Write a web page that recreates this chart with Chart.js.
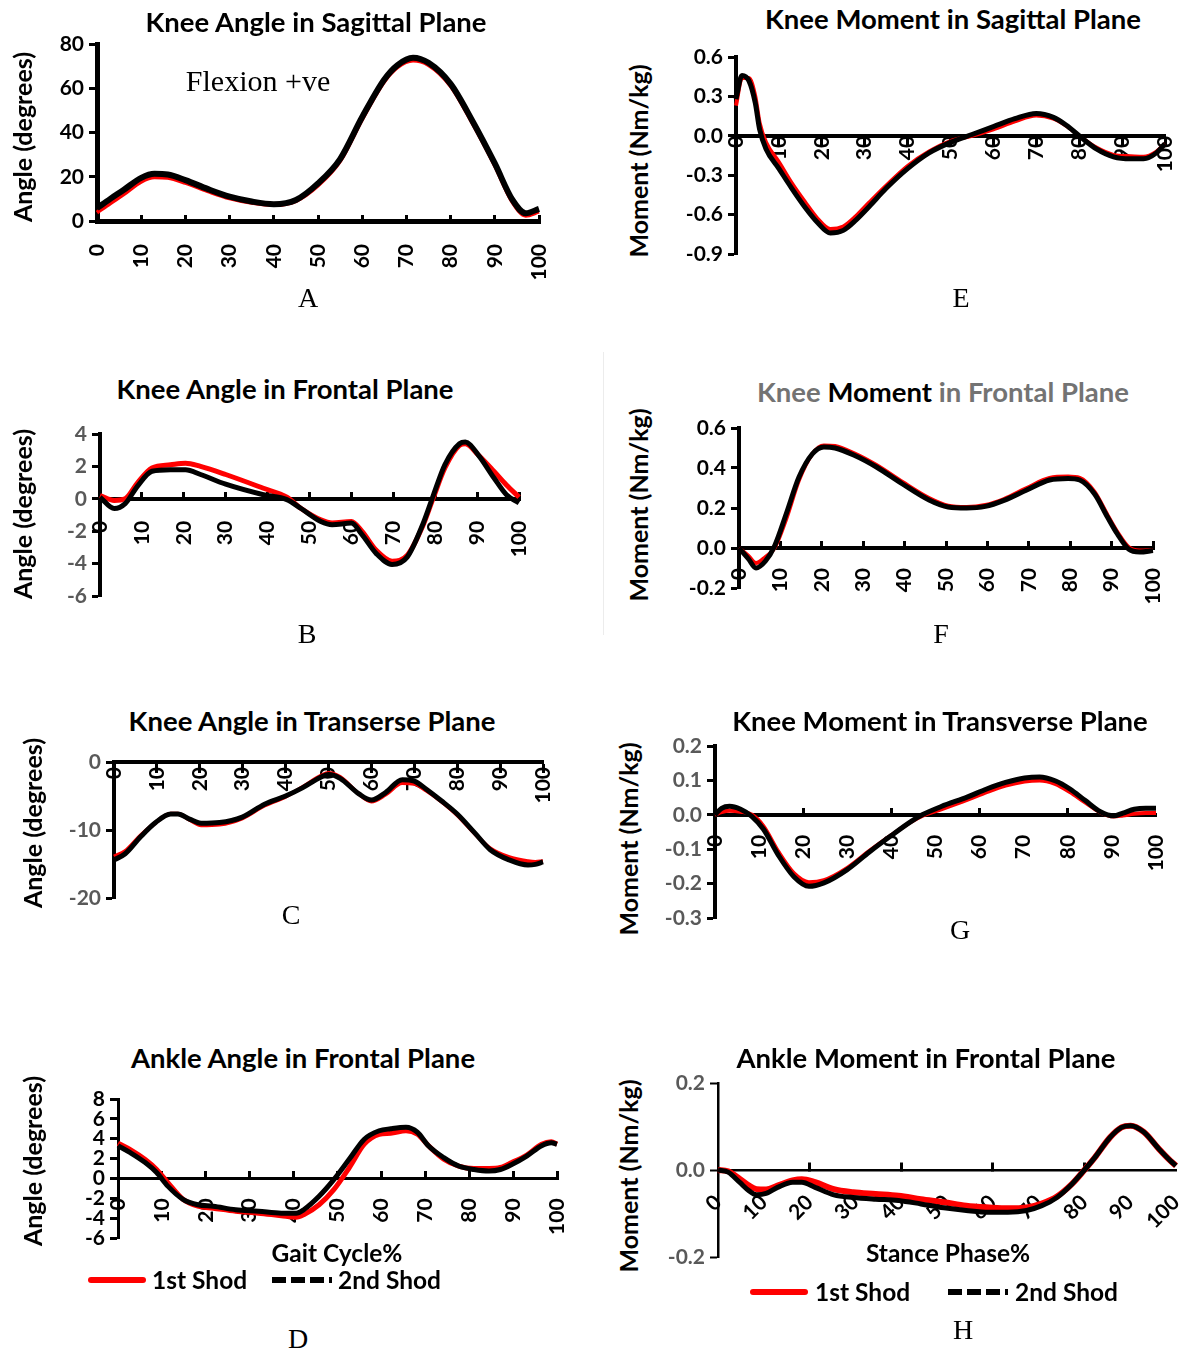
<!DOCTYPE html>
<html><head><meta charset="utf-8">
<script src="https://cdn.jsdelivr.net/npm/chart.js@4.4.1/dist/chart.umd.min.js"></script>
<style>
body{margin:0;background:#fff;width:1180px;height:1350px;position:relative;overflow:hidden;font-family:Lato,"Open Sans",sans-serif}
.t{position:absolute;transform:translate(-50%,-50%);white-space:nowrap;font-weight:700;color:#000;line-height:1}
.ttl{font-size:27.5px}
.yt{font-size:25px;transform:translate(-50%,-50%) rotate(-90deg)}
.let{font-family:"Liberation Serif","DejaVu Serif",serif;font-weight:400;font-size:28px}
.lg{position:absolute;transform:translate(0,-50%);white-space:nowrap;font-weight:700;font-size:24.5px;line-height:1}
canvas{position:absolute}
</style></head><body>
<script>
// ---------- DATA ----------
const seriesNames = ['1st Shod', '2nd Shod'];
// A: Knee angle sagittal
const xA = [0,3,6,10,13,16,20,25,30,35,40,45,50,55,60,65,68,71.5,75,80,85,90,94,97,100];
const a1 = [3.8,8,12,17.8,19.8,19.5,17.2,13.5,10.2,8.2,7.2,9,16,27,46,63,69.5,72.5,70.5,61,44,25,8.5,2.4,4.2];
const a2 = [5.8,10,14,19.5,21.3,21,18.5,14.5,11,8.8,7.6,9.5,17,28,47,64,70.5,73.8,71.5,62,45,26,9.5,3.5,5.5];
// E: Knee moment sagittal
const xE = [0,1.4,3,4.5,5.5,7,10,13,16,19,22,25,28,31,35,40,45,50,55,60,65,70,74,77,80,84,88,92,95,98,100];
const e1 = [0.23,0.44,0.44,0.3,0.1,-0.05,-0.2,-0.36,-0.5,-0.63,-0.71,-0.69,-0.61,-0.51,-0.38,-0.23,-0.12,-0.04,0.0,0.05,0.11,0.155,0.13,0.075,0.0,-0.09,-0.145,-0.155,-0.16,-0.12,-0.06];
const e2 = [0.28,0.46,0.42,0.25,0.05,-0.1,-0.25,-0.4,-0.54,-0.66,-0.74,-0.72,-0.64,-0.54,-0.4,-0.25,-0.13,-0.05,0.01,0.07,0.13,0.17,0.14,0.08,0.0,-0.1,-0.16,-0.175,-0.175,-0.13,-0.06];
// B: Knee angle frontal
const xB = [0,3.4,6,9,12.4,16.8,20.4,24,30,39,44.6,48,52.7,55.4,60,62.5,66,69.7,73.3,77,79.6,82.3,85.8,87.2,90.3,94,97,100];
const b1 = [0.2,-0.1,0,1.0,1.9,2.1,2.2,2.0,1.5,0.65,0.1,-0.6,-1.3,-1.5,-1.4,-2.0,-3.2,-3.85,-3.5,-1.7,0.1,1.9,3.3,3.4,2.7,1.7,0.85,0.1];
const b2 = [0.1,-0.6,-0.3,0.8,1.7,1.8,1.8,1.5,0.9,0.25,-0.05,-0.6,-1.4,-1.6,-1.5,-2.2,-3.4,-4.05,-3.6,-1.6,0.25,2.1,3.4,3.5,2.7,1.3,0.25,-0.25];
// F: Knee moment frontal
const xF = [0,2.3,4.1,6.4,8.6,11.4,14.5,17.7,20.5,23.2,27.7,33.2,39.5,45.9,50.5,55,59.5,64,69.5,75,79.5,82.3,85.9,89,91.4,94.1,96.8,100];
const f1 = [0,-0.04,-0.075,-0.045,0.0,0.145,0.34,0.47,0.513,0.51,0.475,0.415,0.33,0.25,0.212,0.205,0.215,0.245,0.3,0.35,0.357,0.35,0.28,0.165,0.08,0.005,-0.012,-0.01];
const f2 = [0,-0.055,-0.1,-0.065,0.01,0.17,0.355,0.47,0.505,0.5,0.465,0.405,0.32,0.24,0.205,0.2,0.208,0.238,0.29,0.34,0.348,0.34,0.27,0.155,0.07,-0.005,-0.02,-0.013];
// C: Knee angle transverse
const xC = [0,2.6,6.2,9.7,13.2,14.9,17.6,20.3,24.6,29.9,35.1,40,43.9,48.3,50,52.7,57.1,60,63.3,67.2,70,72.8,76.3,80,84.2,87.7,92.1,96.5,98.2,100];
const c1 = [-13.9,-13.1,-10.8,-8.9,-7.6,-7.6,-8.5,-9.3,-9.2,-8.3,-6.4,-5.1,-3.7,-2.0,-1.6,-2.2,-4.7,-5.8,-4.8,-3.1,-3.2,-4.2,-5.8,-7.8,-10.6,-12.7,-14.0,-14.6,-14.7,-14.6];
const c2 = [-14.4,-13.5,-11,-8.9,-7.65,-7.65,-8.4,-9.0,-8.9,-8.1,-6.2,-5.0,-3.8,-2.2,-1.85,-2.4,-4.7,-5.6,-4.5,-2.6,-2.8,-4.0,-5.7,-7.65,-10.5,-12.9,-14.4,-15.15,-15.05,-14.7];
// G: Knee moment transverse
const xG = [0,1.5,3.3,5.8,8.4,11,14.4,17.9,21.3,24.7,29.9,35,39.9,44.5,47,51.3,57.3,61.6,65.9,70.2,73.6,77.1,80.5,83.9,87.4,90.4,92.5,95.1,97.7,100];
const g1 = [0,0.008,0.012,0.009,0,-0.033,-0.108,-0.17,-0.196,-0.19,-0.155,-0.105,-0.06,-0.02,-0.003,0.016,0.044,0.066,0.085,0.097,0.1,0.09,0.066,0.036,0.007,-0.005,-0.002,0.003,0.005,0.005];
const g2 = [0,0.019,0.025,0.016,-0.005,-0.042,-0.118,-0.18,-0.208,-0.198,-0.16,-0.108,-0.061,-0.019,0,0.024,0.052,0.075,0.094,0.107,0.11,0.099,0.075,0.042,0.009,-0.003,0.005,0.016,0.019,0.019];
// D: Ankle angle frontal
const xD = [0,2.8,6.2,8.8,11.4,14.8,18.2,21.7,26.8,32,37.2,40.6,42.3,45.8,49.2,52.7,56.1,59.5,62.1,65.6,68.2,70.7,74.2,77.6,81.1,84.5,87.1,89.7,93.1,96.5,98.7,100];
const d1 = [3.55,2.9,1.9,0.9,-0.45,-2.1,-2.8,-3.0,-3.3,-3.5,-3.75,-3.9,-3.65,-2.65,-1.1,1.1,3.45,4.45,4.55,4.8,4.45,3.3,1.95,1.25,1.0,1.0,1.1,1.6,2.35,3.45,3.7,3.45];
const d2 = [3.3,2.6,1.6,0.6,-0.8,-2.1,-2.65,-2.8,-3.15,-3.3,-3.5,-3.5,-3.15,-1.8,-0.1,1.95,3.95,4.8,5.0,5.15,4.65,3.3,2.1,1.25,0.9,0.75,0.9,1.4,2.25,3.3,3.6,3.45];
// H: Ankle moment frontal
const xH = [0,2.2,4.7,6.8,8.4,10.5,13,16.3,18.3,21.2,25.3,29.5,34.4,39.4,44.3,49.3,54.2,59.2,63.3,67.4,70.7,74,77.3,80,82.3,85.6,88.1,90.1,93,96.3,98.8,100];
const h1 = [0,-0.003,-0.02,-0.036,-0.044,-0.045,-0.036,-0.024,-0.021,-0.028,-0.044,-0.051,-0.055,-0.059,-0.067,-0.074,-0.082,-0.086,-0.088,-0.086,-0.077,-0.061,-0.032,0,0.029,0.075,0.098,0.102,0.087,0.048,0.021,0.01];
const h2 = [0,-0.005,-0.028,-0.048,-0.057,-0.054,-0.04,-0.028,-0.028,-0.04,-0.057,-0.063,-0.067,-0.07,-0.078,-0.087,-0.093,-0.097,-0.097,-0.093,-0.082,-0.063,-0.032,0,0.029,0.075,0.098,0.102,0.087,0.048,0.021,0.01];

// ---------- LAYOUT ----------
const FONT = 'Lato, "Open Sans", sans-serif';
Chart.defaults.font.family = FONT;
const panels = [
  {x:xA,s1:a1,s2:a2,L:97,R:539,T:44,B:221,min:0,max:80,step:20,dec:0,tdir:-1,every:10,rot:90,aw:5,ycol:'#000',lpad:23,lw1:4,lw2:6},
  {x:xE,s1:e1,s2:e2,L:736,R:1165,T:57,B:254,min:-0.9,max:0.6,step:0.3,dec:1,tdir:1,every:10,rot:90,aw:4,ycol:'#000',lpad:0,lw1:4,lw2:5},
  {x:xB,s1:b1,s2:b2,L:100,R:519,T:434,B:596,min:-6,max:4,step:2,dec:0,tdir:-1,every:10,rot:90,aw:4,ycol:'#595959',lpad:22,lw1:5,lw2:5},
  {x:xF,s1:f1,s2:f2,L:739,R:1153,T:428,B:588,min:-0.2,max:0.6,step:0.2,dec:1,tdir:-1,every:10,rot:90,aw:4,ycol:'#000',lpad:20,lw1:4,lw2:5},
  {x:xC,s1:c1,s2:c2,L:114,R:543,T:762,B:898,min:-20,max:0,step:10,dec:0,tdir:1,every:10,rot:90,aw:4,ycol:'#595959',lpad:5,lw1:4,lw2:5},
  {x:xG,s1:g1,s2:g2,L:715,R:1156,T:746,B:918,min:-0.3,max:0.2,step:0.1,dec:1,tdir:-1,every:20,rot:90,aw:4,ycol:'#595959',lpad:20,lw1:4,lw2:5},
  {x:xD,s1:d1,s2:d2,L:118,R:557,T:1099,B:1238,min:-6,max:8,step:2,dec:0,tdir:-1,every:10,rot:90,aw:3,ycol:'#000',lpad:20,lw1:5,lw2:5},
  {x:xH,s1:h1,s2:h2,L:718,R:1176,T:1083,B:1257,min:-0.2,max:0.2,step:0.2,dec:1,tdir:-1,every:20,rot:45,aw:2.5,ycol:'#595959',lpad:20,lw1:6,lw2:5}
];

function zeroPad(s) { s.paddingLeft = 0; s.paddingRight = 0; s.paddingTop = 0; s.paddingBottom = 0; }

function makePanel(p) {
  const Wy = 70, padT = 14, padB = 70, padR = 22;
  const W = (p.R - p.L) + Wy + padR, H = (p.B - p.T) + padT + padB;
  const c = document.createElement('canvas');
  c.width = W; c.height = H;
  c.style.left = (p.L - Wy) + 'px'; c.style.top = (p.T - padT) + 'px';
  c.style.width = W + 'px'; c.style.height = H + 'px';
  document.body.appendChild(c);
  const keep = v => p.every === 10 ? true : (v % 20 === 0 && v > 0 && v < 100);
  const tl = 9 * p.tdir;
  new Chart(c, {
    type: 'line',
    data: { datasets: [
      { label: seriesNames[0], data: p.s1.map((y, i) => ({x: p.x[i], y})), borderColor: '#ff0000', borderWidth: p.lw1, order: 1, clip: false, cubicInterpolationMode: 'monotone', pointRadius: 0, fill: false },
      { label: seriesNames[1], data: p.s2.map((y, i) => ({x: p.x[i], y})), borderColor: '#000000', borderWidth: p.lw2, order: 0, clip: false, cubicInterpolationMode: 'monotone', pointRadius: 0, fill: false }
    ]},
    options: {
      responsive: false, animation: false, devicePixelRatio: 1,
      layout: { padding: { left: 0, top: padT, right: padR, bottom: padB } },
      plugins: { legend: { display: false }, tooltip: { enabled: false } },
      scales: {
        x: {
          type: 'linear', min: 0, max: 100, position: { y: 0 },
          afterFit: zeroPad,
          ticks: { stepSize: 10, autoSkip: false, minRotation: p.rot, maxRotation: p.rot, color: '#000', padding: p.lpad - tl, font: { size: 21, weight: 'bold' } },
          grid: { drawOnChartArea: false, tickLength: tl, tickWidth: 3, tickColor: ctx => (ctx.tick && keep(ctx.tick.value)) ? '#000' : 'rgba(0,0,0,0)' },
          border: { width: p.aw, color: '#000' }
        },
        y: {
          min: p.min, max: p.max,
          afterFit: s => { s.width = Wy; zeroPad(s); },
          ticks: { stepSize: p.step, autoSkip: false, color: p.ycol, padding: 5, font: { size: 21, weight: 'bold' }, callback: v => Number(v).toFixed(p.dec) },
          grid: { drawOnChartArea: false, tickLength: 8, tickWidth: p.aw < 3 ? 2 : 3, tickColor: '#000' },
          border: { width: p.aw, color: '#000' }
        }
      }
    }
  });
}
panels.forEach(makePanel);

// ---------- TEXT ----------
function txt(html, x, y, cls, style) {
  const d = document.createElement('div');
  d.className = 't ' + (cls || '');
  d.innerHTML = html;
  d.style.left = x + 'px'; d.style.top = y + 'px';
  if (style) d.style.cssText += style;
  document.body.appendChild(d);
  return d;
}
function lg(text, x, y) {
  const d = document.createElement('div');
  d.className = 'lg'; d.textContent = text;
  d.style.left = x + 'px'; d.style.top = y + 'px';
  document.body.appendChild(d);
}
function bar(x, y, w, dashed) {
  const d = document.createElement('div');
  d.style.cssText = `position:absolute;left:${x}px;top:${y - 3}px;width:${w}px;height:6px;` +
    (dashed ? 'background:repeating-linear-gradient(90deg,#000 0 14px,transparent 14px 19px);' : 'background:#ff0000;border-radius:3px;');
  document.body.appendChild(d);
}
// faint frame line left of panel F
const fl = document.createElement('div');
fl.style.cssText = 'position:absolute;left:603px;top:352px;width:1px;height:283px;background:#ececec';
document.body.appendChild(fl);

txt('Knee Angle in Sagittal Plane', 316, 22, 'ttl');
txt('Knee Moment in Sagittal Plane', 953, 19, 'ttl');
txt('Knee Angle in Frontal Plane', 285, 389, 'ttl');
txt('<span style="color:#737373">Knee </span>Moment<span style="color:#737373"> in Frontal Plane</span>', 943, 392, 'ttl');
txt('Knee Angle in Transerse Plane', 312, 721, 'ttl');
txt('Knee Moment in Transverse Plane', 940, 721, 'ttl');
txt('Ankle Angle in Frontal Plane', 303, 1058, 'ttl');
txt('Ankle Moment in Frontal Plane', 926, 1058, 'ttl');

txt('Angle (degrees)', 22, 137, 'yt');
txt('Moment (Nm/kg)', 638, 161, 'yt');
txt('Angle (degrees)', 22, 514, 'yt');
txt('Moment (Nm/kg)', 638, 505, 'yt');
txt('Angle (degrees)', 32, 823, 'yt');
txt('Moment (Nm/kg)', 628, 839, 'yt');
txt('Angle (degrees)', 32, 1161, 'yt');
txt('Moment (Nm/kg)', 628, 1176, 'yt');

txt('Flexion +ve', 258, 81, 'let', 'font-size:30px');
txt('A', 308, 298, 'let'); txt('E', 961, 298, 'let');
txt('B', 307, 634, 'let'); txt('F', 941, 634, 'let');
txt('C', 291, 915, 'let'); txt('G', 960, 930, 'let');
txt('D', 298, 1339, 'let'); txt('H', 963, 1330, 'let');

txt('Gait Cycle%', 337, 1253, '', 'font-size:24.5px');
txt('Stance Phase%', 948, 1253, '', 'font-size:24.5px');

bar(88, 1280, 58, false); lg(seriesNames[0], 152, 1280);
bar(272, 1280, 60, true); lg(seriesNames[1], 338, 1280);
bar(750, 1292, 58, false); lg(seriesNames[0], 815, 1292);
bar(948, 1292, 60, true); lg(seriesNames[1], 1015, 1292);
</script>
</body></html>
